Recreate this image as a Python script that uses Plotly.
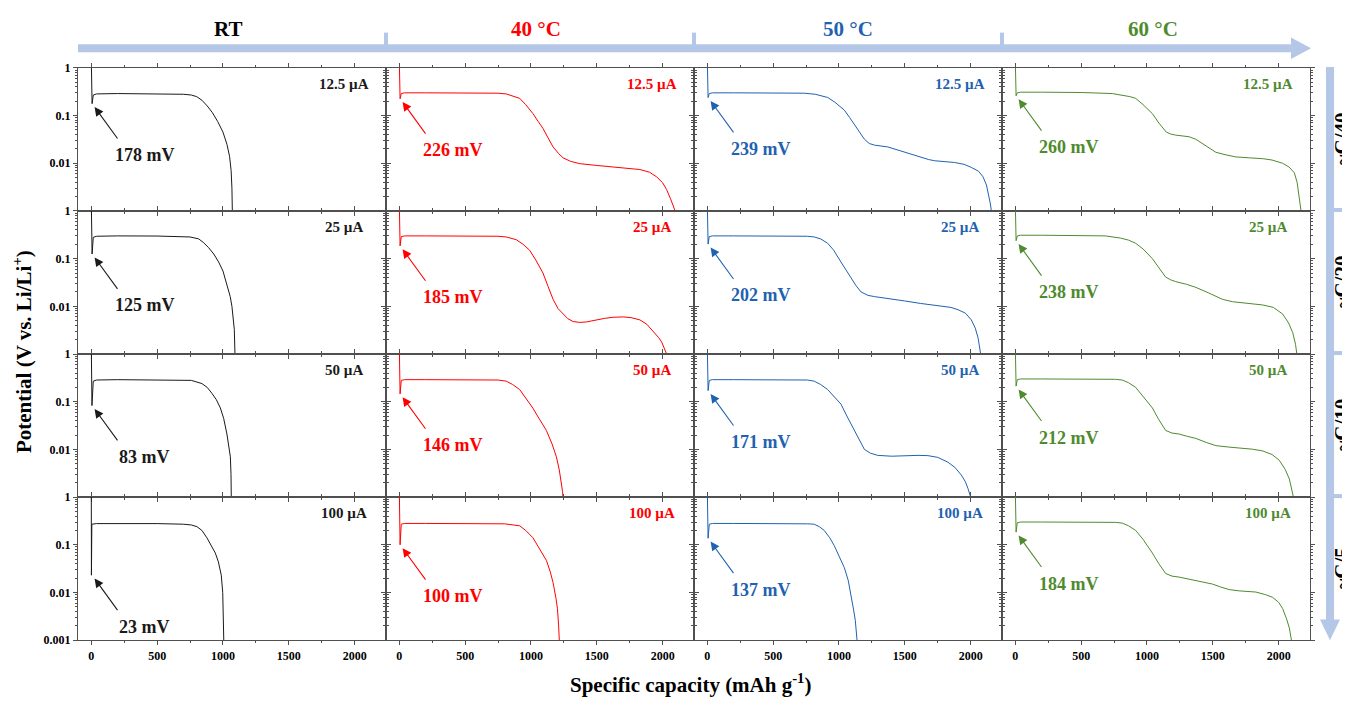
import math
import plotly.graph_objects as go

# ---------------- data ----------------
temperatures = ["RT", "40 °C", "50 °C", "60 °C"]
currents = ["12.5 µA", "25 µA", "50 µA", "100 µA"]
rates = ["~C/40", "~C/20", "~C/10", "~C/5"]
colors = ["#1a1a1a", "#ff0000", "#1f62b0", "#4f8a2e"]

# nucleation overpotential (mV) per temperature (rows = currents)
dip_RT = [178, 125, 83, 23]
dip_40 = [226, 185, 146, 100]
dip_50 = [239, 202, 171, 137]
dip_60 = [260, 238, 212, 184]

# RT
cap_RT_12 = [0, 6, 15, 40, 200, 500, 700, 760, 800, 840, 880, 920, 960, 1000, 1030, 1050, 1062, 1068, 1071]
pot_RT_12 = [1.5, 0.178, 0.27, 0.285, 0.29, 0.288, 0.28, 0.27, 0.25, 0.21, 0.16, 0.115, 0.075, 0.045, 0.025, 0.014, 0.007, 0.003, 0.001]
cap_RT_25 = [0, 6, 15, 40, 200, 500, 750, 815, 850, 891, 930, 967, 1000, 1030, 1055, 1068, 1080, 1086, 1091]
pot_RT_25 = [1.5, 0.125, 0.28, 0.295, 0.30, 0.298, 0.285, 0.26, 0.22, 0.17, 0.125, 0.085, 0.055, 0.029, 0.016, 0.01, 0.005, 0.0033, 0.001]
cap_RT_50 = [0, 5, 15, 40, 200, 500, 760, 840, 880, 916, 950, 980, 1005, 1030, 1045, 1056, 1061, 1063]
pot_RT_50 = [1.5, 0.083, 0.27, 0.285, 0.29, 0.29, 0.28, 0.24, 0.2, 0.15, 0.11, 0.074, 0.045, 0.021, 0.012, 0.007, 0.003, 0.001]
cap_RT_100 = [0, 1, 4, 40, 200, 500, 700, 760, 802, 840, 878, 910, 942, 965, 987, 998, 1003, 1006]
pot_RT_100 = [1.5, 0.023, 0.27, 0.278, 0.28, 0.278, 0.27, 0.26, 0.24, 0.2, 0.14, 0.1, 0.067, 0.044, 0.023, 0.01, 0.004, 0.001]

# 40 °C
cap_40_12 = [0, 6, 15, 40, 200, 500, 750, 812, 860, 914, 960, 1015, 1055, 1091, 1130, 1168, 1210, 1244, 1300, 1371, 1500, 1624, 1720, 1827, 1900, 1954, 2000, 2030, 2060, 2081, 2095]
pot_40_12 = [1.5, 0.226, 0.29, 0.30, 0.30, 0.30, 0.295, 0.285, 0.26, 0.23, 0.17, 0.11, 0.075, 0.054, 0.034, 0.022, 0.016, 0.013, 0.011, 0.0098, 0.009, 0.0084, 0.008, 0.0074, 0.0065, 0.0052, 0.0039, 0.0028, 0.0018, 0.0013, 0.001]
cap_40_25 = [0, 6, 15, 40, 200, 500, 750, 812, 850, 888, 940, 990, 1040, 1091, 1130, 1168, 1205, 1244, 1280, 1320, 1370, 1420, 1497, 1560, 1624, 1700, 1760, 1827, 1880, 1929, 1970, 1992, 2015, 2030]
pot_40_25 = [1.5, 0.185, 0.29, 0.30, 0.30, 0.30, 0.295, 0.285, 0.27, 0.25, 0.2, 0.15, 0.09, 0.05, 0.026, 0.014, 0.009, 0.0069, 0.0055, 0.0048, 0.0046, 0.0047, 0.0052, 0.0056, 0.0059, 0.006, 0.0058, 0.0052, 0.0042, 0.003, 0.0022, 0.0018, 0.0013, 0.001]
cap_40_50 = [0, 6, 15, 40, 200, 500, 750, 812, 860, 914, 960, 1015, 1060, 1117, 1160, 1193, 1215, 1231, 1240, 1243]
pot_40_50 = [1.5, 0.146, 0.28, 0.29, 0.29, 0.29, 0.285, 0.27, 0.23, 0.18, 0.12, 0.073, 0.045, 0.025, 0.013, 0.007, 0.0037, 0.002, 0.0013, 0.001]
cap_40_100 = [0, 6, 15, 40, 200, 500, 800, 914, 960, 1015, 1060, 1117, 1145, 1168, 1190, 1201, 1210, 1215]
pot_40_100 = [1.5, 0.1, 0.27, 0.28, 0.28, 0.28, 0.275, 0.25, 0.2, 0.14, 0.085, 0.047, 0.028, 0.016, 0.0075, 0.0046, 0.002, 0.001]

# 50 °C
cap_50_12 = [0, 6, 15, 40, 200, 500, 736, 820, 870, 914, 970, 1041, 1080, 1117, 1160, 1193, 1230, 1270, 1371, 1497, 1560, 1624, 1680, 1726, 1800, 1878, 1950, 2005, 2060, 2094, 2120, 2140, 2150, 2157]
pot_50_12 = [1.5, 0.239, 0.29, 0.30, 0.30, 0.30, 0.295, 0.28, 0.26, 0.24, 0.19, 0.13, 0.092, 0.065, 0.043, 0.032, 0.026, 0.024, 0.022, 0.017, 0.015, 0.013, 0.012, 0.0113, 0.0108, 0.0104, 0.0095, 0.0082, 0.0068, 0.0052, 0.0035, 0.002, 0.0014, 0.001]
cap_50_25 = [0, 6, 15, 40, 200, 500, 760, 812, 860, 914, 960, 1015, 1050, 1091, 1130, 1168, 1220, 1270, 1400, 1497, 1620, 1751, 1850, 1904, 1960, 2005, 2035, 2056, 2070, 2076]
pot_50_25 = [1.5, 0.202, 0.29, 0.30, 0.30, 0.30, 0.295, 0.285, 0.26, 0.21, 0.15, 0.085, 0.06, 0.041, 0.027, 0.02, 0.017, 0.016, 0.0145, 0.013, 0.0115, 0.0102, 0.0095, 0.0085, 0.0072, 0.0052, 0.0035, 0.0022, 0.0014, 0.001]
cap_50_50 = [0, 6, 15, 40, 200, 500, 760, 812, 860, 914, 960, 1015, 1060, 1117, 1160, 1193, 1240, 1294, 1400, 1497, 1600, 1675, 1750, 1827, 1880, 1929, 1960, 1980, 1994, 2000]
pot_50_50 = [1.5, 0.171, 0.28, 0.29, 0.29, 0.29, 0.285, 0.27, 0.23, 0.18, 0.13, 0.089, 0.05, 0.025, 0.014, 0.01, 0.0083, 0.0075, 0.0072, 0.0074, 0.0075, 0.0074, 0.0068, 0.0054, 0.0042, 0.0029, 0.0021, 0.0015, 0.0012, 0.001]
cap_50_100 = [0, 6, 15, 40, 200, 500, 760, 812, 850, 888, 930, 964, 1000, 1041, 1070, 1091, 1110, 1124, 1132, 1137]
pot_50_100 = [1.5, 0.137, 0.27, 0.28, 0.28, 0.28, 0.275, 0.27, 0.24, 0.2, 0.14, 0.096, 0.06, 0.033, 0.018, 0.0093, 0.0045, 0.0026, 0.0015, 0.001]

# 60 °C
cap_60_12 = [0, 6, 15, 40, 200, 500, 736, 820, 870, 914, 970, 1041, 1090, 1147, 1180, 1218, 1270, 1320, 1370, 1421, 1470, 1523, 1600, 1675, 1780, 1878, 1950, 2030, 2080, 2119, 2140, 2155, 2170]
pot_60_12 = [1.5, 0.26, 0.30, 0.31, 0.31, 0.305, 0.29, 0.27, 0.25, 0.23, 0.17, 0.11, 0.07, 0.045, 0.041, 0.039, 0.038, 0.036, 0.032, 0.026, 0.021, 0.017, 0.015, 0.0136, 0.013, 0.0125, 0.0117, 0.01, 0.0083, 0.0063, 0.004, 0.0022, 0.001]
cap_60_25 = [0, 6, 15, 40, 200, 500, 685, 800, 860, 914, 970, 1041, 1090, 1142, 1180, 1218, 1300, 1371, 1470, 1574, 1650, 1726, 1800, 1878, 1960, 2030, 2075, 2107, 2128, 2138]
pot_60_25 = [1.5, 0.238, 0.30, 0.31, 0.31, 0.305, 0.30, 0.27, 0.245, 0.21, 0.16, 0.1, 0.065, 0.041, 0.036, 0.033, 0.029, 0.025, 0.019, 0.014, 0.0125, 0.0118, 0.0113, 0.0107, 0.0095, 0.0069, 0.0045, 0.0028, 0.0016, 0.001]
cap_60_50 = [0, 6, 15, 40, 200, 500, 760, 812, 860, 914, 970, 1041, 1090, 1142, 1190, 1244, 1300, 1371, 1450, 1523, 1620, 1726, 1800, 1878, 1950, 2005, 2050, 2081, 2100, 2112]
pot_60_50 = [1.5, 0.212, 0.29, 0.30, 0.30, 0.30, 0.295, 0.285, 0.25, 0.2, 0.13, 0.074, 0.042, 0.025, 0.022, 0.021, 0.019, 0.017, 0.014, 0.012, 0.0112, 0.0107, 0.0101, 0.0093, 0.0078, 0.0059, 0.0038, 0.0024, 0.0015, 0.001]
cap_60_100 = [0, 6, 15, 40, 200, 500, 760, 812, 860, 914, 970, 1041, 1090, 1142, 1190, 1244, 1300, 1371, 1430, 1497, 1560, 1624, 1700, 1827, 1900, 1954, 2000, 2030, 2060, 2081, 2097]
pot_60_100 = [1.5, 0.184, 0.29, 0.30, 0.30, 0.30, 0.295, 0.285, 0.25, 0.2, 0.13, 0.067, 0.04, 0.025, 0.022, 0.021, 0.0195, 0.018, 0.0165, 0.015, 0.013, 0.0115, 0.0108, 0.0102, 0.009, 0.0079, 0.0062, 0.0046, 0.0028, 0.0018, 0.001]

x_ticks = [0, 500, 1000, 1500, 2000]
y_ticks = [1, 0.1, 0.01, 0.001]
y_tick_text = ["1", "0.1", "0.01", "0.001"]

# ---------------- assembly ----------------
curves = [
    [(cap_RT_12, pot_RT_12), (cap_40_12, pot_40_12), (cap_50_12, pot_50_12), (cap_60_12, pot_60_12)],
    [(cap_RT_25, pot_RT_25), (cap_40_25, pot_40_25), (cap_50_25, pot_50_25), (cap_60_25, pot_60_25)],
    [(cap_RT_50, pot_RT_50), (cap_40_50, pot_40_50), (cap_50_50, pot_50_50), (cap_60_50, pot_60_50)],
    [(cap_RT_100, pot_RT_100), (cap_40_100, pot_40_100), (cap_50_100, pot_50_100), (cap_60_100, pot_60_100)],
]
dips = [dip_RT, dip_40, dip_50, dip_60]

OFF = 8  # page body margin
W, H = 1350 - OFF, 703 - OFF
COL_L = [78, 386, 694, 1002]
COL_W = 308
ROW_T = [62, 208, 354, 500]
ROW_H = 146
SERIF = "Liberation Serif"
AXC = "#505050"

def px(p):
    return (p - OFF) / W

def py(p):
    return 1 - (p - OFF) / H

fig = go.Figure()
layout = {}
annotations = []
minor_y = [k * 10.0 ** e for e in (-3, -2, -1) for k in range(2, 10)]

for r in range(4):
    for c in range(4):
        i = r * 4 + c + 1
        sfx = "" if i == 1 else str(i)
        xs, ys = curves[r][c]
        fig.add_trace(go.Scatter(x=xs, y=ys, mode="lines",
                                 line=dict(color=colors[c], width=1.0),
                                 xaxis="x" + sfx, yaxis="y" + sfx,
                                 showlegend=False, hoverinfo="skip"))
        tv = y_ticks if r == 3 else y_ticks[:3]
        tt = y_tick_text if r == 3 else y_tick_text[:3]
        layout["xaxis" + sfx] = dict(
            domain=[px(COL_L[c]), px(COL_L[c] + COL_W)], range=[-101, 2238],
            anchor="y" + sfx, tickmode="array", tickvals=x_ticks,
            showticklabels=(r == 3), ticks="outside", ticklen=4, tickwidth=1,
            tickcolor=AXC, mirror="allticks", showline=True, linecolor=AXC,
            linewidth=1, showgrid=False, zeroline=False,
            minor=dict(tickmode="linear", tick0=0, dtick=250, ticks="outside",
                       ticklen=2, tickcolor=AXC, showgrid=False),
            tickfont=dict(family=SERIF, size=12, color="black", weight="bold"),
        )
        layout["yaxis" + sfx] = dict(
            domain=[py(ROW_T[r] + ROW_H), py(ROW_T[r])], type="log", range=[-3, 0],
            anchor="x" + sfx, tickmode="array", tickvals=tv, ticktext=tt,
            showticklabels=(c == 0), ticks="outside", ticklen=4, tickwidth=1,
            tickcolor=AXC, mirror="allticks", showline=True, linecolor=AXC,
            linewidth=1, showgrid=False, zeroline=False,
            minor=dict(tickmode="array", tickvals=minor_y, ticks="outside",
                       ticklen=2, tickcolor=AXC, showgrid=False),
            tickfont=dict(family=SERIF, size=12, color="black", weight="bold"),
        )
        # current label
        annotations.append(dict(
            xref="paper", yref="paper", x=px(COL_L[c] + COL_W - 42), y=py(ROW_T[r] + 16),
            text=currents[r], showarrow=False, xanchor="center", yanchor="middle",
            font=dict(family=SERIF, size=15, color=colors[c], weight="bold")))
        # overpotential arrow + label
        dip = dips[c][r]
        tip_y = math.log10(dip / 1000.0 * 0.85)
        annotations.append(dict(
            xref="x" + sfx, yref="y" + sfx, x=25, y=tip_y, text="",
            showarrow=True, ax=24, ay=33, arrowhead=2, arrowsize=1.6,
            arrowwidth=1.1, arrowcolor=colors[c]))
        annotations.append(dict(
            xref="x" + sfx, yref="y" + sfx, x=25, y=tip_y, xshift=50, yshift=-48,
            text=f"{dip} mV", showarrow=False, xanchor="center", yanchor="middle",
            font=dict(family=SERIF, size=18, color=colors[c], weight="bold")))

# header temperatures
head_x = [228, 536, 848, 1153]
for c in range(4):
    annotations.append(dict(
        xref="paper", yref="paper", x=px(head_x[c]), y=py(22), text=temperatures[c],
        showarrow=False, xanchor="center", yanchor="middle",
        font=dict(family=SERIF, size=21, color=colors[c] if c else "black", weight="bold")))

# right rates (partly cut by the right edge, as in the reference)
for r in range(4):
    annotations.append(dict(
        xref="paper", yref="paper", x=px(1342), y=py(ROW_T[r] + ROW_H / 2), text=rates[r],
        showarrow=False, xanchor="center", yanchor="middle", textangle=-90,
        font=dict(family=SERIF, size=21, color="black", weight="bold")))

# axis titles
annotations.append(dict(
    xref="paper", yref="paper", x=px(690), y=py(690),
    text="Specific capacity (mAh g<sup>-1</sup>)", showarrow=False,
    xanchor="center", yanchor="middle",
    font=dict(family=SERIF, size=21, color="black", weight="bold")))
annotations.append(dict(
    xref="paper", yref="paper", x=px(22), y=py(352),
    text="Potential (V vs. Li/Li<sup>+</sup>)", showarrow=False, textangle=-90,
    xanchor="center", yanchor="middle",
    font=dict(family=SERIF, size=21, color="black", weight="bold")))

# decorative arrows
LB = "#b4c7e7"
shapes = [
    dict(type="line", xref="paper", yref="paper", x0=px(78), x1=px(1294), y0=py(42), y1=py(42),
         line=dict(color=LB, width=8)),
    dict(type="path", xref="paper", yref="paper",
         path=f"M {px(1291)},{py(31)} L {px(1311)},{py(42)} L {px(1291)},{py(53)} Z",
         fillcolor=LB, line=dict(color=LB, width=0)),
    dict(type="line", xref="paper", yref="paper", x0=px(1330), x1=px(1330), y0=py(61), y1=py(627),
         line=dict(color=LB, width=8)),
    dict(type="path", xref="paper", yref="paper",
         path=f"M {px(1320)},{py(625)} L {px(1330)},{py(646)} L {px(1340)},{py(625)} Z",
         fillcolor=LB, line=dict(color=LB, width=0)),
]
for xb in (386, 694, 1002):
    shapes.append(dict(type="line", xref="paper", yref="paper", x0=px(xb), x1=px(xb),
                       y0=py(26), y1=py(42), line=dict(color=LB, width=4)))
for yb in (207, 353, 499):
    shapes.append(dict(type="line", xref="paper", yref="paper", x0=px(1330), x1=px(1346),
                       y0=py(yb), y1=py(yb), line=dict(color=LB, width=4)))

fig.update_layout(
    width=W, height=H, margin=dict(l=0, r=0, t=0, b=0),
    paper_bgcolor="white", plot_bgcolor="white", showlegend=False,
    annotations=annotations, shapes=shapes, **layout)

fig.write_html("out.html")
